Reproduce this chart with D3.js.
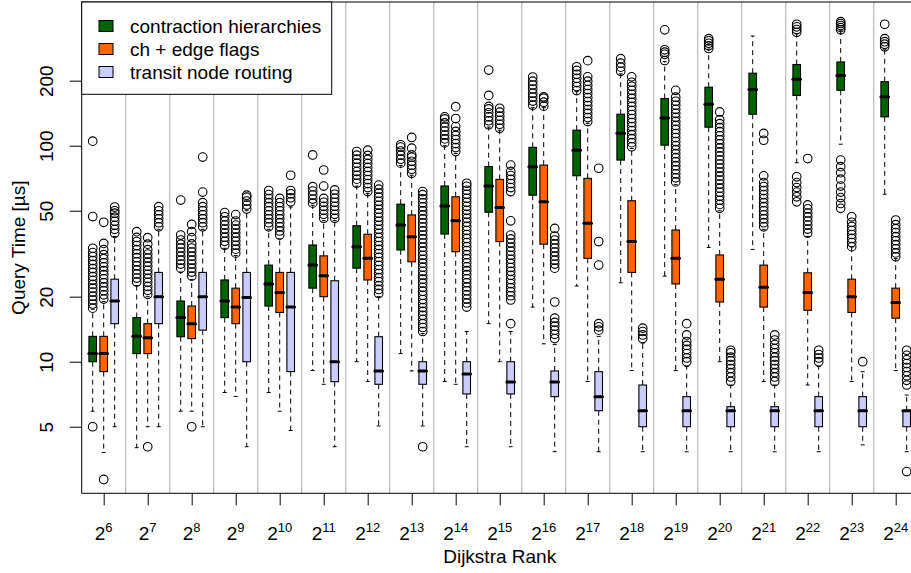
<!DOCTYPE html>
<html>
<head>
<meta charset="utf-8">
<script src="https://cdn.jsdelivr.net/npm/d3@7"></script>
<style>
body { margin: 0; background: #fff; }
text { font-family: "Liberation Sans", Arial, Helvetica, sans-serif; }
</style>
</head>
<body>
<svg id="chart"></svg>
<script>
// dijkstra rank exponents (2^k)
var exponents = [6, 7, 8, 9, 10, 11, 12, 13, 14, 15, 16, 17, 18, 19, 20, 21, 22, 23, 24];
var seriesNames = ["contraction hierarchies", "ch + edge flags", "transit node routing"];
var seriesColors = ["#006400", "#ff6600", "#ccccff"];
var yTicks = [5, 10, 20, 50, 100, 200];

// contraction hierarchies
var chLow  = [5.9, 4.0, 5.9, 7.2, 7.2, 9.1, 10.0, 10.9, 8.1, 15.0, 17.9, 22.4, 23.2, 24.9, 33.8, 33.1, 83.4, 101.6, 59.6];
var chQ1   = [10.0, 10.9, 13.05, 16.0, 18.1, 21.9, 27.1, 32.9, 39.0, 49.2, 59.0, 72.6, 85.8, 100.6, 121.8, 139.9, 170.9, 180.5, 136.0];
var chMed  = [10.9, 13.1, 16.0, 19.1, 22.9, 28.0, 34.1, 43.0, 52.6, 65.1, 80.0, 95.3, 114.2, 134.4, 155.6, 182.2, 203.3, 211.3, 168.5];
var chQ3   = [13.1, 16.0, 19.1, 23.9, 28.0, 34.7, 42.6, 53.6, 65.1, 80.0, 98.3, 118.0, 139.9, 165.3, 186.6, 216.6, 237.6, 244.2, 197.9];
var chHigh = [17.5, 22.5, 26.0, 33.5, 41.0, 53.0, 65.0, 81.0, 100.0, 122.0, 150.0, 178.0, 215.0, 245.0, 280.0, 322.0, 330.0, 340.0, 280.0];
var chOut = [
  [5.0, 17.7, 18.5, 19.3, 20.1, 21.0, 21.9, 22.8, 23.8, 24.8, 25.9, 27.0, 28.2, 29.4, 30.7, 32.0, 33.5, 47, 105],
  [23.4, 24.4, 25.5, 26.6, 27.8, 29.0, 30.3, 31.6, 33.0, 34.5, 36.0, 37.6, 40.0],
  [27.1, 28.3, 29.5, 30.8, 32.2, 33.6, 35.0, 36.6, 38.6, 56],
  [34.6, 36.1, 37.7, 39.4, 41.1, 42.9, 44.8, 46.9, 49],
  [42.1, 44.0, 45.9, 47.9, 50.0, 52.2, 54.5, 56.9, 59.4, 62.0],
  [54.2, 56.6, 59.1, 61.7, 64.6, 90.6],
  [67, 70, 73, 76, 79.5, 83, 86.6, 90.4, 94],
  [83, 86.6, 90.4, 94.4, 98.5, 101],
  [103, 107.5, 112, 117, 122, 127.5, 133, 136],
  [125, 130.5, 136, 142, 148, 152, 171, 224],
  [154, 161, 168, 175, 183, 191, 199, 208],
  [180, 188, 196, 205, 214, 223, 232],
  [221, 231, 241, 253],
  [248, 265, 271, 278, 344],
  [282, 290, 298, 306, 313],
  [],
  [55.0, 58, 61, 64, 67.5, 71.8, 335, 345, 355, 365],
  [51.3, 54, 57.5, 61, 65, 70, 75, 80, 85.8, 344, 352, 360, 368, 375],
  [287, 295, 303, 313, 365]
];

// ch + edge flags
var efLow  = [3.8, 5.0, 5.9, 6.9, 5.9, 7.86, 8.1, 9.06, 7.86, 10.0, 12.1, 8.1, 9.1, 9.1, 10.0, 8.1, 7.8, 8.1, 9.1];
var efQ1   = [9.0, 10.9, 12.8, 15.0, 16.9, 20.0, 23.9, 29.0, 32.3, 36.0, 35.0, 30.1, 25.9, 22.9, 18.9, 17.9, 17.3, 16.9, 15.9];
var efMed  = [10.9, 12.9, 15.0, 17.9, 20.9, 25.0, 30.1, 37.9, 44.9, 51.8, 55.0, 43.7, 36.0, 30.1, 24.1, 22.1, 20.9, 20.0, 18.8];
var efQ3   = [13.1, 15.0, 18.1, 21.9, 25.9, 30.9, 38.9, 47.8, 58.0, 69.8, 81.3, 70.6, 55.6, 40.7, 31.2, 28.0, 25.8, 24.1, 21.9];
var efHigh = [19.0, 20.0, 24.0, 31.0, 37.0, 45.0, 60.0, 73.0, 92.0, 118.0, 150.0, 127.0, 97.0, 66.0, 50.0, 41.0, 38.0, 34.0, 30.0];
var efOut = [
  [2.85, 19.5, 20.4, 21.3, 22.2, 23.2, 24.2, 25.3, 26.4, 27.5, 28.7, 30.0, 31.3, 33.0, 35.3, 44.2],
  [4.04, 20.5, 21.4, 22.3, 23.3, 24.3, 25.4, 26.5, 27.7, 28.9, 30.2, 31.5, 33.0, 35.0, 37.5],
  [5.0, 24.9, 26.0, 27.1, 28.3, 29.5, 30.8, 32.2, 33.6, 35.1, 37.5, 40.0, 43.2],
  [31.8, 33.2, 34.6, 36.1, 37.7, 39.4, 41.1, 42.9, 44.8, 48.0],
  [38.6, 40.3, 42.1, 44.0, 45.9, 47.9, 50.0, 52.2, 54.5, 57.0],
  [46.1, 48.1, 50.2, 52.4, 54.7, 57.0, 65.0, 77.2],
  [61.3, 64.0, 66.8, 69.7, 72.8, 76.0, 79.3, 82.8, 86.4, 90.2, 95.3],
  [74.5, 77.8, 81.2, 84.7, 88.4, 90.6, 97.4, 109.2],
  [93.9, 98.0, 102.3, 106.8, 111.5, 116.4, 122.6, 133.6, 151.6],
  [120.4, 125.7, 131.2, 137, 143, 149.1],
  [152.4, 159, 166, 168.5],
  [129.3, 135, 141, 147, 153.5, 160, 167, 174.5, 182, 190, 199, 208.4, 247.5],
  [98.9, 103.3, 107.8, 112.5, 117.5, 122.6, 128, 133.6, 139.5, 145.6, 152, 158.6, 165.6, 172.9, 180.5, 188.4, 196.7, 208.4],
  [68.0, 71.0, 74.1, 77.4, 80.8, 84.3, 88.0, 91.9, 95.9, 100.1, 104.5, 109.1, 113.9, 118.9, 124.1, 129.6, 135.3, 141.2, 147.4, 153.9, 160.6, 167.7, 180.5],
  [51.3, 53.5, 55.9, 58.3, 60.9, 63.6, 66.4, 69.3, 72.3, 75.5, 78.8, 82.3, 85.9, 89.7, 93.6, 97.7, 102, 106.5, 111.2, 116.1, 121.2, 126.5, 132, 143.3],
  [42.1, 44.0, 45.9, 47.9, 50.0, 52.2, 54.5, 56.9, 59.4, 62.0, 64.7, 67.5, 72.5, 106, 114],
  [39.4, 41.1, 42.9, 44.8, 46.8, 48.8, 51.0, 53.2, 87.2],
  [34.1, 35.6, 37.2, 38.8, 40.5, 42.3, 44.2, 46.9],
  [30.6, 31.9, 33.3, 34.8, 36.3, 37.9, 39.6, 41.3, 43.1, 45.3]
];

// transit node routing
var tnLow  = [5.0, 5.0, 5.0, 4.04, 4.8, 4.04, 5.04, 5.04, 4.04, 4.04, 3.83, 3.83, 3.83, 3.83, 3.83, 3.83, 3.83, 4.12, 3.83];
var tnQ1   = [15.0, 15.0, 14.0, 10.0, 9.0, 8.08, 7.86, 7.86, 7.09, 7.09, 6.89, 5.93, 5.0, 5.0, 5.0, 5.0, 5.0, 5.0, 5.0];
var tnMed  = [19.1, 20.0, 20.0, 19.8, 17.9, 10.0, 9.06, 9.06, 8.77, 8.05, 8.05, 6.89, 5.93, 5.93, 5.93, 5.93, 5.93, 5.93, 5.93];
var tnQ3   = [24.1, 25.9, 25.9, 25.9, 25.9, 23.7, 13.05, 10.0, 10.0, 10.0, 9.06, 8.99, 7.8, 6.89, 6.19, 6.19, 6.89, 6.89, 5.93];
var tnHigh = [38.0, 41.0, 41.0, 50.0, 52.0, 45.0, 20.0, 13.5, 13.8, 13.8, 12.0, 13.1, 12.2, 9.5, 7.8, 7.8, 9.5, 8.99, 7.01];
var tnOut = [
  [39.3, 41.0, 42.8, 44.7, 46.7, 48.7, 50.0, 52.0],
  [42.1, 44.0, 45.9, 47.9, 50.0, 52.2],
  [42.1, 44.0, 45.9, 47.9, 50.0, 52.2, 54.5, 61, 88.6],
  [50.9, 53.1, 55.4, 57.8, 59.0],
  [55.0, 57.4, 59.9, 62.0, 73.0],
  [46.1, 48.1, 50.2, 52.4, 54.7, 57.1, 59.6, 62.4],
  [20.7, 21.6, 22.5, 23.5, 24.5, 25.6, 26.7, 27.9, 29.1, 30.4, 31.7, 33.1, 34.5, 36.0, 37.6, 39.3, 41.0, 42.8, 44.7, 46.6, 48.7, 50.8, 53.0, 55.3, 57.8, 60.3, 62.9, 65.7],
  [4.04, 13.8, 14.4, 15.0, 15.7, 16.4, 17.1, 17.8, 18.6, 19.4, 20.3, 21.2, 22.1, 23.1, 24.1, 25.1, 26.2, 27.4, 28.6, 29.8, 31.1, 32.5, 33.9, 35.4, 37.0, 38.6, 40.3, 42.0, 43.9, 45.8, 47.8, 49.9, 52.1, 54.4, 56.8, 59.3, 61.3],
  [17.9, 18.7, 19.5, 20.4, 21.3, 22.2, 23.2, 24.2, 25.3, 26.4, 27.5, 28.7, 30.0, 31.3, 32.7, 34.1, 35.6, 37.2, 38.8, 40.5, 42.3, 44.2, 46.1, 48.1, 50.2, 52.4, 54.7, 57.1, 59.6, 62.2, 64.9, 67.0],
  [15.0, 19.3, 20.2, 21.1, 22.0, 23.0, 24.0, 25.1, 26.2, 27.3, 28.5, 29.8, 31.1, 32.5, 33.9, 35.4, 37.0, 38.6, 44.9, 61.3, 64.0, 66.8, 69.8, 72.8, 76.0, 81.3],
  [12.8, 13.4, 14.0, 14.6, 15.2, 15.9, 18.9, 27.1, 28.3, 29.5, 30.8, 32.2, 33.6, 35.1, 36.6, 38.2, 41.4],
  [14.0, 14.5, 15.0, 28.0, 36.0, 78.6],
  [12.8, 13.3, 13.8, 14.3],
  [10.0, 10.4, 10.9, 11.4, 11.9, 12.4, 13.3, 15.0],
  [8.1, 8.5, 8.9, 9.3, 9.7, 10.1, 10.5, 11.0, 11.3],
  [8.1, 8.5, 8.9, 9.3, 9.7, 10.1, 10.5, 11.0, 11.5, 12.0, 12.6, 13.3],
  [10.0, 10.4, 10.8, 11.3],
  [10.0],
  [3.1, 7.8, 8.2, 8.6, 9.0, 9.4, 9.8, 10.2, 10.7, 11.3]
];

var svgWidth = 911, svgHeight = 573;
var plotLeft = 81.7, plotRight = 917.7, plotTop = 2, plotBottom = 493.3;

var svg = d3.select("#chart")
    .attr("width", svgWidth)
    .attr("height", svgHeight);

// each group takes 4 slots: 3 boxes and a gap
var x = d3.scaleLinear()
    .domain([0, exponents.length * 4])
    .range([plotLeft, plotRight]);

var y = d3.scaleLog()
    .domain([2.459, 462.7])
    .range([plotBottom, plotTop]);

var stats = [
  [chLow, chQ1, chMed, chQ3, chHigh, chOut],
  [efLow, efQ1, efMed, efQ3, efHigh, efOut],
  [tnLow, tnQ1, tnMed, tnQ3, tnHigh, tnOut]
];

var boxes = [];
exponents.forEach(function(e, i) {
  stats.forEach(function(s, k) {
    boxes.push({
      pos: i * 4 + k + 1,
      color: seriesColors[k],
      low: s[0][i], q1: s[1][i], med: s[2][i], q3: s[3][i], high: s[4][i],
      out: s[5][i]
    });
  });
});

// vertical separators between groups
svg.append("g").selectAll("line")
  .data(d3.range(1, exponents.length))
  .enter().append("line")
    .attr("x1", function(d) { return x(d * 4); })
    .attr("x2", function(d) { return x(d * 4); })
    .attr("y1", plotTop)
    .attr("y2", plotBottom)
    .style("stroke", "#bebebe")
    .style("stroke-width", 1.3);

var boxW = 7.6, stapleW = 4;

var bg = svg.append("g").selectAll("g")
  .data(boxes)
  .enter().append("g");

bg.append("line")
  .attr("x1", function(d) { return x(d.pos); })
  .attr("x2", function(d) { return x(d.pos); })
  .attr("y1", function(d) { return y(d.q3); })
  .attr("y2", function(d) { return y(d.high); })
  .style("stroke", "#000").style("stroke-dasharray", "5,4");

bg.append("line")
  .attr("x1", function(d) { return x(d.pos); })
  .attr("x2", function(d) { return x(d.pos); })
  .attr("y1", function(d) { return y(d.q1); })
  .attr("y2", function(d) { return y(d.low); })
  .style("stroke", "#000").style("stroke-dasharray", "5,4");

bg.append("line")
  .attr("x1", function(d) { return x(d.pos) - stapleW / 2; })
  .attr("x2", function(d) { return x(d.pos) + stapleW / 2; })
  .attr("y1", function(d) { return y(d.high); })
  .attr("y2", function(d) { return y(d.high); })
  .style("stroke", "#000");

bg.append("line")
  .attr("x1", function(d) { return x(d.pos) - stapleW / 2; })
  .attr("x2", function(d) { return x(d.pos) + stapleW / 2; })
  .attr("y1", function(d) { return y(d.low); })
  .attr("y2", function(d) { return y(d.low); })
  .style("stroke", "#000");

bg.append("rect")
  .attr("x", function(d) { return x(d.pos) - boxW / 2; })
  .attr("y", function(d) { return y(d.q3); })
  .attr("width", boxW)
  .attr("height", function(d) { return Math.max(0.5, y(d.q1) - y(d.q3)); })
  .style("fill", function(d) { return d.color; })
  .style("stroke", "#000")
  .style("stroke-width", 1.1);

bg.append("line")
  .attr("x1", function(d) { return x(d.pos) - boxW / 2; })
  .attr("x2", function(d) { return x(d.pos) + boxW / 2; })
  .attr("y1", function(d) { return y(d.med); })
  .attr("y2", function(d) { return y(d.med); })
  .style("stroke", "#000").style("stroke-width", 3).style("stroke-linecap", "round");

bg.selectAll("circle")
  .data(function(d) { return d.out.map(function(v) { return { pos: d.pos, v: v }; }); })
  .enter().append("circle")
    .attr("cx", function(d) { return x(d.pos); })
    .attr("cy", function(d) { return y(d.v); })
    .attr("r", 4.3)
    .style("fill", "none")
    .style("stroke", "#000")
    .style("stroke-width", 1.1);

// frame
svg.append("rect")
  .attr("x", plotLeft).attr("y", plotTop)
  .attr("width", plotRight - plotLeft).attr("height", plotBottom - plotTop)
  .style("fill", "none").style("stroke", "#000");

// y axis
var yAxis = svg.append("g")
  .attr("transform", "translate(" + plotLeft + ",0)")
  .call(d3.axisLeft(y).tickValues(yTicks).tickSize(12).tickFormat(d3.format("d")));
yAxis.select(".domain").remove();
yAxis.selectAll("line").style("stroke", "#000");
yAxis.selectAll("text")
  .attr("x", null).attr("dy", null)
  .attr("text-anchor", "middle")
  .attr("transform", "translate(-28.4,0)rotate(-90)")
  .style("font-size", "19px").style("fill", "#000");

// x axis
var xAxis = svg.append("g")
  .attr("transform", "translate(0," + plotBottom + ")")
  .call(d3.axisBottom(x).tickValues(exponents.map(function(e, i) { return i * 4 + 2; }))
    .tickSize(12).tickFormat(""));
xAxis.select(".domain").remove();
xAxis.selectAll("line").style("stroke", "#000");

var xl = svg.append("g").selectAll("text")
  .data(exponents)
  .enter().append("text")
    .attr("x", function(e, i) { return x(i * 4 + 2); })
    .attr("y", 540)
    .attr("text-anchor", "middle")
    .style("font-size", "19px");
xl.append("tspan").text("2");
xl.append("tspan").attr("dy", -8.5).style("font-size", "13px").text(function(e) { return e; });

svg.append("text").text("Dijkstra Rank")
  .attr("x", (plotLeft + plotRight) / 2)
  .attr("y", 563.3)
  .attr("text-anchor", "middle")
  .style("font-size", "19px");

svg.append("text").text("Query Time [µs]")
  .attr("text-anchor", "middle")
  .attr("transform", "translate(25," + ((plotTop + plotBottom) / 2) + ")rotate(-90)")
  .style("font-size", "19px");

// legend
var legend = svg.append("g");
legend.append("rect")
  .attr("x", plotLeft).attr("y", plotTop)
  .attr("width", 250).attr("height", 92.3)
  .style("fill", "#fff").style("stroke", "#000");

seriesNames.forEach(function(name, k) {
  legend.append("rect")
    .attr("x", 99).attr("y", 20.5 + k * 23)
    .attr("width", 14).attr("height", 11)
    .style("fill", seriesColors[k]).style("stroke", "#000");
  legend.append("text").text(name)
    .attr("x", 130).attr("y", 32.5 + k * 23)
    .style("font-size", "19px");
});
</script>
</body>
</html>
